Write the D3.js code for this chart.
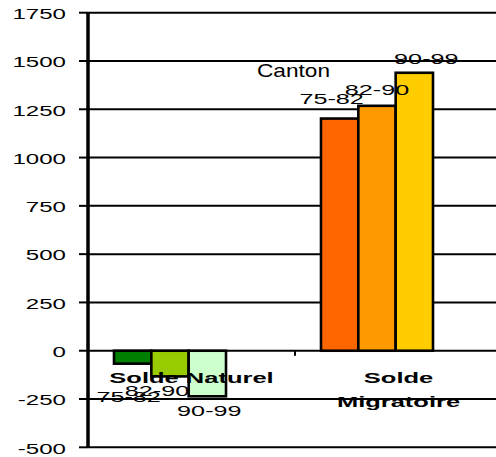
<!DOCTYPE html>
<html>
<head>
<meta charset="utf-8">
<script src="https://cdn.jsdelivr.net/npm/d3@7"></script>
<style>
  html, body { margin: 0; padding: 0; background: #fff; }
  svg { display: block; }
  text { font-family: "Liberation Sans", Arial, sans-serif; fill: #000; }
</style>
</head>
<body>
<svg id="chart" width="496" height="457"></svg>
<script>
// ---- data ----
const categories = ["Solde Naturel", "Solde Migratoire"];
const categoryLines = [["Solde Naturel"], ["Solde", "Migratoire"]];
const periods = ["75-82", "82-90", "90-99"];
const soldeNaturel = [-67, -133, -236];
const soldeMigratoire = [1202, 1268, 1439];
const yTicks = [-500, -250, 0, 250, 500, 750, 1000, 1250, 1500, 1750];
const title = "Canton";

// ---- styles ----
const colors = {
  "Solde Naturel": ["#008000", "#99CC00", "#CCFFCC"],
  "Solde Migratoire": ["#FF6600", "#FF9900", "#FFCC00"]
};
// small label nudges (dx, dy) to mimic the original placement
const labelNudge = {
  "Solde Naturel": [[-4, 18], [-13, 0], [2, 0]],
  "Solde Migratoire": [[-8, -4], [0, 0], [12, 2]]
};

const svg = d3.select("#chart");
const axisX = 88, plotRight = 502;

const y = d3.scaleLinear().domain([-500, 1750]).range([447.3, 12.7]);
const x0 = d3.scaleBand().domain(categories).range([axisX, plotRight]);
const x1 = d3.scaleBand().domain(periods).range([26, 138]);

const rows = categories.map((c, i) => ({
  cat: c,
  values: (i === 0 ? soldeNaturel : soldeMigratoire).map((v, j) => ({ period: periods[j], v, j, cat: c }))
}));

// gridlines
svg.append("g").selectAll("line").data(yTicks).join("line")
  .attr("x1", axisX).attr("x2", 496)
  .attr("y1", d => y(d)).attr("y2", d => y(d))
  .attr("stroke", "#000").attr("stroke-width", 2);

// y tick marks
svg.append("g").selectAll("line").data(yTicks).join("line")
  .attr("x1", 79).attr("x2", axisX)
  .attr("y1", d => y(d)).attr("y2", d => y(d))
  .attr("stroke", "#000").attr("stroke-width", 2);

// y tick labels (horizontally stretched)
svg.append("g").selectAll("text").data(yTicks).join("text")
  .attr("transform", d => `translate(66,${y(d) + 6.3}) scale(1.72,1)`)
  .attr("text-anchor", "end")
  .attr("font-size", 14)
  .text(d => d);

// category axis tick between categories
svg.append("line")
  .attr("x1", x0(categories[1])).attr("x2", x0(categories[1]))
  .attr("y1", y(0)).attr("y2", y(0) + 5)
  .attr("stroke", "#000").attr("stroke-width", 2);

// bars
const groups = svg.append("g").selectAll("g").data(rows).join("g")
  .attr("transform", d => `translate(${x0(d.cat)},0)`);

groups.selectAll("rect").data(d => d.values).join("rect")
  .attr("x", d => x1(d.period))
  .attr("width", x1.bandwidth())
  .attr("y", d => Math.min(y(d.v), y(0)))
  .attr("height", d => Math.abs(y(d.v) - y(0)))
  .attr("fill", d => colors[d.cat][d.j])
  .attr("stroke", "#000").attr("stroke-width", 2.6);

// y axis line
svg.append("line")
  .attr("x1", axisX).attr("x2", axisX)
  .attr("y1", y(1750)).attr("y2", y(-500))
  .attr("stroke", "#000").attr("stroke-width", 3.5);

// category labels
categories.forEach((c, i) => {
  categoryLines[i].forEach((line, k) => {
    svg.append("text")
      .attr("transform", `translate(${x0(c) + x0.bandwidth() / 2},${382.5 + k * 24.3}) scale(1.7,1)`)
      .attr("text-anchor", "middle")
      .attr("font-size", 15)
      .attr("font-weight", "bold")
      .text(line);
  });
});

// data labels
groups.selectAll("text.dl").data(d => d.values).join("text")
  .attr("class", "dl")
  .attr("transform", d => {
    const nd = labelNudge[d.cat][d.j];
    const cx = x1(d.period) + x1.bandwidth() / 2 + nd[0];
    const by = (d.v >= 0 ? y(d.v) - 11 : y(d.v) + 20) + nd[1];
    return `translate(${cx},${by}) scale(1.8,1)`;
  })
  .attr("text-anchor", "middle")
  .attr("font-size", 14)
  .text(d => d.period);

// title
svg.append("text")
  .attr("x", 257).attr("y", 76.5)
  .attr("font-size", 19)
  .attr("textLength", 73)
  .attr("lengthAdjust", "spacingAndGlyphs")
  .text(title);
</script>
</body>
</html>
